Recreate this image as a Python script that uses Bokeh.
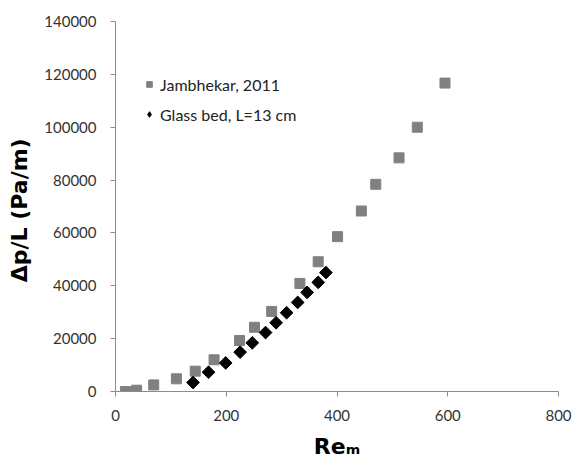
from bokeh.plotting import figure
from bokeh.models import Range1d, Legend, LegendItem, FixedTicker, NumeralTickFormatter
from bokeh.embed import file_html
from bokeh.resources import INLINE
import math

jamb_x = [18, 38, 69, 110, 144, 178, 224, 251, 282, 333, 366, 401, 444, 470, 512, 545, 595]
jamb_y = [0, 500, 2500, 4800, 7700, 12000, 19300, 24300, 30300, 40900, 49100, 58600, 68300, 78400, 88400, 100000, 116700]

glass_x = [140, 168, 199, 225, 247, 271, 290, 309, 329, 346, 366, 380]
glass_y = [3400, 7300, 10800, 14900, 18400, 22300, 26000, 29800, 33700, 37500, 41300, 45000]

x_ticks = [0, 200, 400, 600, 800]
y_ticks = [0, 20000, 40000, 60000, 80000, 100000, 120000, 140000]

FONT = "Lato"

p = figure(width=578, height=471, output_backend="svg", toolbar_location=None,
           x_range=Range1d(0, 800), y_range=Range1d(0, 140000),
           min_border_left=115, min_border_right=20, min_border_top=21, min_border_bottom=80)
p.outline_line_color = None
p.xgrid.visible = False
p.ygrid.visible = False
p.background_fill_color = "white"
p.border_fill_color = "white"

r1 = p.scatter(jamb_x, jamb_y, marker="square", size=10, fill_color="#808080", line_color="#808080")
r2 = p.scatter(glass_x, glass_y, marker="square", size=9, angle=math.pi / 4,
               fill_color="black", line_color="black")
# off-range proxy used only for the legend diamond
r2_leg = p.scatter([-500], [-50000], marker="diamond", size=14,
                   fill_color="black", line_color="black")

for ax in (p.xaxis[0], p.yaxis[0]):
    ax.axis_line_color = "#8c8c8c"
    ax.major_tick_line_color = "#8c8c8c"
    ax.minor_tick_line_color = None
    ax.major_tick_in = 0
    ax.major_tick_out = 5
    ax.major_label_text_font = FONT
    ax.major_label_text_font_size = "15px"
    ax.major_label_text_color = "#333333"

p.xaxis.ticker = FixedTicker(ticks=x_ticks)
p.yaxis.ticker = FixedTicker(ticks=y_ticks)
p.yaxis.formatter = NumeralTickFormatter(format="0")
p.xaxis.major_label_standoff = 13
p.yaxis.major_label_standoff = 14

p.yaxis.axis_label = "Δp/L  (Pa/m)"
p.yaxis.axis_label_text_font = "DejaVu Sans"
p.yaxis.axis_label_text_font_style = "bold"
p.yaxis.axis_label_text_font_size = "22px"
p.yaxis.axis_label_text_color = "black"
p.yaxis.axis_label_standoff = 9

p.xaxis.axis_label = "Reₘ"
p.xaxis.axis_label_text_font = "DejaVu Sans"
p.xaxis.axis_label_text_font_style = "bold"
p.xaxis.axis_label_text_font_size = "22px"
p.xaxis.axis_label_text_color = "black"
p.xaxis.axis_label_standoff = 10

legend = Legend(items=[LegendItem(label="Jambhekar, 2011", renderers=[r1]),
                       LegendItem(label="Glass bed, L=13 cm", renderers=[r2_leg])],
                location=(27, 267))
legend.border_line_color = None
legend.background_fill_alpha = 0
legend.label_text_font = FONT
legend.label_text_font_size = "16px"
legend.label_text_color = "#222222"
legend.glyph_width = 14
legend.glyph_height = 14
legend.label_height = 20
legend.spacing = 10
legend.padding = 5
legend.label_standoff = 4
p.add_layout(legend, "center")

open("out.html", "w").write(file_html(p, INLINE))
